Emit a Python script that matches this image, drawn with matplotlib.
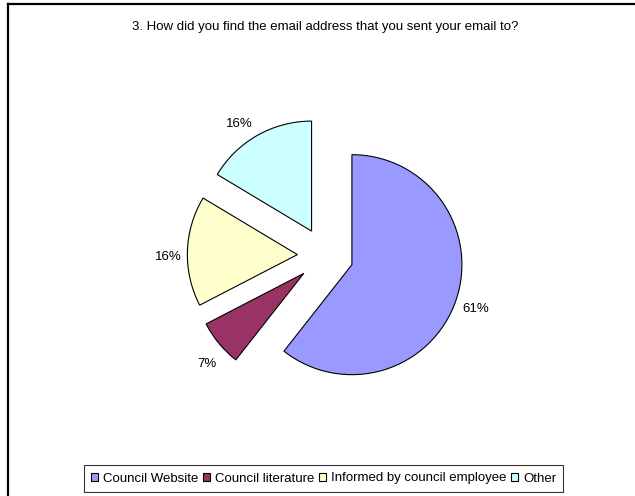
import matplotlib.pyplot as plt
from matplotlib.lines import Line2D

plt.rcParams['font.family'] = ['Liberation Sans', 'DejaVu Sans']

# data
categories = ['Council Website', 'Council literature',
              'Informed by council employee', 'Other']
shares = [60.6, 6.8, 16.2, 16.4]
colours = ['#9999FF', '#993366', '#FFFFCC', '#CCFFFF']
title = '3. How did you find the email address that you sent your email to?'

# small pixel nudges of the percentage labels (Excel places them a bit differently)
label_nudge_px = [(1, -2), (3, -8), (1, -6), (-8, -6)]

W, H = 635, 496
fig = plt.figure(figsize=(W / 100, H / 100), dpi=100)

# chart frame (only top and left edges visible in the crop)
fig.add_artist(Line2D([8 / W, 8 / W], [0, 1 - 4 / H], color='black', lw=1.6))
fig.add_artist(Line2D([8 / W, 1], [1 - 4 / H, 1 - 4 / H], color='black', lw=1.6))

fig.text(325 / W, 1 - 27 / H, title, ha='center', va='center', fontsize=9.5)

# pie axes, centre at about (325, 255) px, radius 110 px
cx, cy, r, lim = 325.4, H - 255.5, 110, 1.5
side = 2 * lim * r
ax = fig.add_axes([(cx - side / 2) / W, (cy - side / 2) / H, side / W, side / H])
wedges, texts, autotexts = ax.pie(
    shares, colors=colours, startangle=90, counterclock=False,
    explode=[0.255] * 4, autopct='%.0f%%', pctdistance=1.18,
    wedgeprops=dict(edgecolor='black', linewidth=0.8),
    textprops=dict(fontsize=9.5))
ax.set_xlim(-lim, lim)
ax.set_ylim(-lim, lim)
ax.set_aspect('equal')

for t, (dx, dy) in zip(autotexts, label_nudge_px):
    x, y = t.get_position()
    t.set_position((x + dx / r, y + dy / r))

leg = fig.legend(wedges, categories, loc='center', ncol=4,
                 bbox_to_anchor=(323.5 / W, 1 - 478.5 / H), fontsize=9.5,
                 frameon=True, fancybox=False, edgecolor='black',
                 handlelength=0.55, handleheight=0.55, handletextpad=0.4,
                 columnspacing=0.3, borderpad=0.55, borderaxespad=0)
leg.get_frame().set_linewidth(0.8)

fig.savefig('out.png', dpi=100)
